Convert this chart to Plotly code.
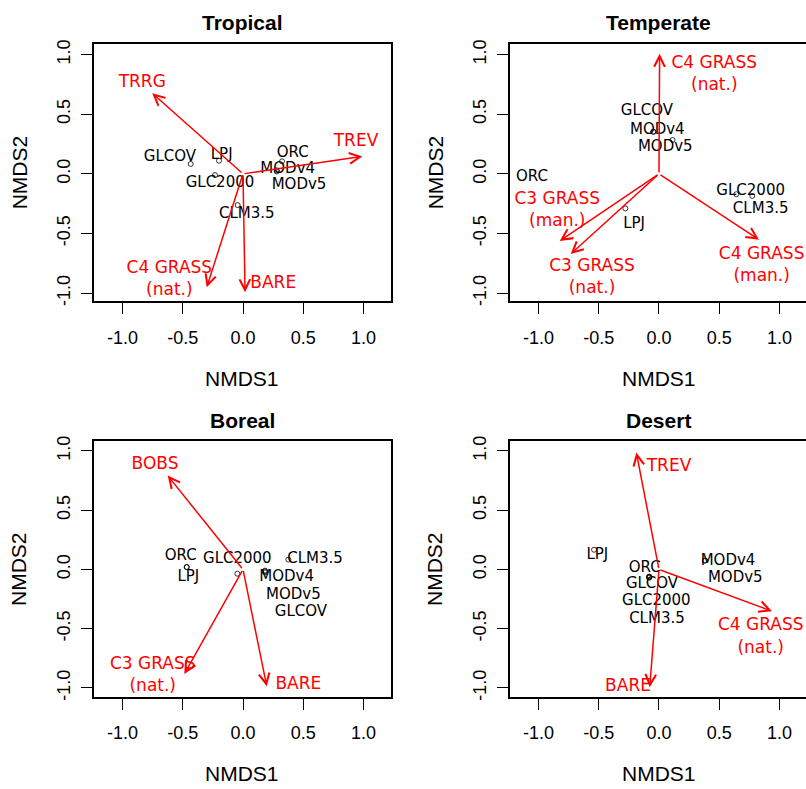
import plotly.graph_objects as go

W, H = 806, 789

# ---------------- data (NMDS scores) ----------------
trop_sites = ["GLCOV", "LPJ", "GLC2000", "ORC", "MODv4", "MODv5", "CLM3.5"]
trop_x = [-0.434, -0.199, -0.232, 0.324, 0.28, 0.28, -0.044]
trop_y = [0.083, 0.110, -0.011, 0.105, 0.03, 0.02, -0.262]
trop_lab_x = [-0.606, -0.177, -0.191, 0.412, 0.371, 0.465, 0.031]
trop_lab_y = [0.141, 0.160, -0.083, 0.174, 0.041, -0.097, -0.337]
trop_vec = ["TRRG", "TREV", "C4 GRASS<br>(nat.)", "BARE"]
trop_vx = [-0.753, 0.990, -0.301, 0.017]
trop_vy = [0.676, 0.146, -0.952, -0.993]
trop_vlx = [-0.836, 0.938, -0.611, 0.251]
trop_vly = [0.762, 0.270, -0.891, -0.925]

temp_sites = ["GLCOV", "MODv4", "MODv5", "ORC", "LPJ", "GLC2000", "CLM3.5"]
temp_x = [-0.047, -0.047, 0.113, -1.30, -0.279, 0.642, 0.774]
temp_y = [0.353, 0.353, 0.284, 0.0, -0.290, -0.171, -0.185]
temp_lab_x = [-0.100, -0.014, 0.052, -1.054, -0.207, 0.761, 0.844]
temp_lab_y = [0.527, 0.367, 0.224, -0.028, -0.419, -0.143, -0.295]
temp_vec = ["C4 GRASS<br>(nat.)", "C3 GRASS<br>(man.)", "C3 GRASS<br>(nat.)", "C4 GRASS<br>(man.)"]
temp_vx = [0.005, -0.824, -0.733, 0.830]
temp_vy = [1.007, -0.563, -0.673, -0.552]
temp_vlx = [0.459, -0.844, -0.556, 0.852]
temp_vly = [0.833, -0.312, -0.869, -0.767]

bor_sites = ["ORC", "LPJ", "GLC2000", "CLM3.5", "MODv4", "MODv5", "GLCOV"]
bor_x = [-0.467, -0.467, -0.047, 0.376, 0.183, 0.183, 0.183]
bor_y = [0.020, 0.020, -0.036, 0.083, -0.017, -0.025, -0.010]
bor_lab_x = [-0.517, -0.454, -0.047, 0.598, 0.362, 0.418, 0.481]
bor_lab_y = [0.111, -0.064, 0.083, 0.083, -0.069, -0.214, -0.361]
bor_vec = ["BOBS", "C3 GRASS<br>(nat.)", "BARE"]
bor_vx = [-0.625, -0.487, 0.197]
bor_vy = [0.792, -0.883, -0.986]
bor_vlx = [-0.730, -0.749, 0.459]
bor_vly = [0.883, -0.897, -0.972]

des_sites = ["LPJ", "ORC", "GLCOV", "GLC2000", "CLM3.5", "MODv4", "MODv5"]
des_x = [-0.539, -0.083, -0.083, -0.080, -0.080, 0.382, 0.382]
des_y = [0.166, -0.064, -0.064, -0.070, -0.060, 0.075, 0.075]
des_lab_x = [-0.512, -0.119, -0.058, -0.022, -0.017, 0.573, 0.633]
des_lab_y = [0.120, 0.006, -0.125, -0.272, -0.417, 0.069, -0.075]
des_vec = ["TREV", "C4 GRASS<br>(nat.)", "BARE"]
des_vx = [-0.188, 0.938, -0.077]
des_vy = [0.986, -0.352, -0.994]
des_vlx = [0.083, 0.844, -0.257]
des_vly = [0.867, -0.572, -0.986]

titles = ["Tropical", "Temperate", "Boreal", "Desert"]
tick_vals = [-1.0, -0.5, 0.0, 0.5, 1.0]
tick_text = ["-1.0", "-0.5", "0.0", "0.5", "1.0"]

# ---------------- layout geometry (pixels) ----------------
boxes = [  # x0, x1, y0(top), y1(bottom) in pixels
    (94, 391, 39, 300),
    (510, 806, 39, 300),
    (94, 391, 441.7, 700.7),
    (510, 806, 441.7, 700.7),
]
title_gap = [21.5, 21.5, 20.5, 20.5]
xranges = [[-1.2365, 1.2282], [-1.2365, 1.220], [-1.2365, 1.2282], [-1.2365, 1.220]]
yranges = [[-1.068, 1.093], [-1.068, 1.093], [-1.075, 1.083], [-1.075, 1.083]]

panels = [
    (trop_sites, trop_x, trop_y, trop_lab_x, trop_lab_y, trop_vec, trop_vx, trop_vy, trop_vlx, trop_vly),
    (temp_sites, temp_x, temp_y, temp_lab_x, temp_lab_y, temp_vec, temp_vx, temp_vy, temp_vlx, temp_vly),
    (bor_sites, bor_x, bor_y, bor_lab_x, bor_lab_y, bor_vec, bor_vx, bor_vy, bor_vlx, bor_vly),
    (des_sites, des_x, des_y, des_lab_x, des_lab_y, des_vec, des_vx, des_vy, des_vlx, des_vly),
]

RED = "#FF0000"
TICKFONT = dict(family="Liberation Sans, Arial, sans-serif", size=18, color="black")
AXFONT = dict(family="Liberation Sans, Arial, sans-serif", size=21, color="black")
TITLEFONT = dict(family="Liberation Sans, Arial, sans-serif", size=21, color="black", weight="bold")
LABFONT = dict(family="DejaVu Sans, sans-serif", size=15, color="black")
VECFONT = dict(family="DejaVu Sans, sans-serif", size=17, color=RED)

fig = go.Figure()
annotations = []
layout = {}

for i, (sites, sx, sy, lx, ly, vec, vx, vy, vlx, vly) in enumerate(panels):
    n = i + 1
    xa = "x" if n == 1 else f"x{n}"
    ya = "y" if n == 1 else f"y{n}"
    x0, x1, yt, yb = boxes[i]
    right_panel = i in (1, 3)
    layout["xaxis" if n == 1 else f"xaxis{n}"] = dict(
        domain=[x0 / W, x1 / W], range=xranges[i], anchor=ya,
        showline=True, linecolor="black", linewidth=1.6, mirror=True,
        ticks="outside", ticklen=11, tickwidth=1, tickcolor="black",
        tickvals=tick_vals, ticktext=tick_text, tickfont=TICKFONT,
        ticklabelstandoff=8,
        showgrid=False, zeroline=False, fixedrange=True,
    )
    layout["yaxis" if n == 1 else f"yaxis{n}"] = dict(
        domain=[1 - yb / H, 1 - yt / H], range=yranges[i], anchor=xa,
        showline=True, linecolor="black", linewidth=1.6, mirror=not right_panel,
        ticks="outside", ticklen=11, tickwidth=1, tickcolor="black",
        tickvals=tick_vals, ticktext=tick_text, tickfont=TICKFONT, tickangle=-90,
        ticklabelstandoff=4,
        showgrid=False, zeroline=False, fixedrange=True,
    )
    # site points
    fig.add_trace(go.Scatter(
        x=sx, y=sy, xaxis=xa, yaxis=ya, mode="markers", cliponaxis=True,
        marker=dict(symbol="circle-open", size=5, color="black", line=dict(width=0.8)),
        showlegend=False, hoverinfo="skip"))
    # site labels
    fig.add_trace(go.Scatter(
        x=lx, y=ly, xaxis=xa, yaxis=ya, mode="text", text=sites,
        textposition="middle center", textfont=LABFONT,
        showlegend=False, hoverinfo="skip"))
    # vector arrows (from origin)
    for tx, ty in zip(vx, vy):
        annotations.append(dict(
            x=tx, y=ty, ax=0, ay=0, xref=xa, yref=ya, axref=xa, ayref=ya,
            text="", showarrow=True, arrowhead=5, arrowsize=1.4, arrowwidth=1.5,
            arrowcolor=RED, standoff=0, startstandoff=0))
    # vector labels
    fig.add_trace(go.Scatter(
        x=vlx, y=vly, xaxis=xa, yaxis=ya, mode="text", text=vec,
        textposition="middle center", textfont=VECFONT,
        showlegend=False, hoverinfo="skip"))
    cx = (x0 + x1 + (1 if right_panel else 0)) / 2 / W
    # panel title
    annotations.append(dict(
        x=cx, y=1 - (yt - title_gap[i]) / H, xref="paper", yref="paper", text=titles[i],
        showarrow=False, font=TITLEFONT, xanchor="center", yanchor="middle"))
    # axis titles
    annotations.append(dict(
        x=cx, y=1 - (yb + 78) / H, xref="paper", yref="paper", text="NMDS1",
        showarrow=False, font=AXFONT, xanchor="center", yanchor="middle"))
    annotations.append(dict(
        x=(x0 - 75) / W, y=1 - (yt + yb) / 2 / H, xref="paper", yref="paper", text="NMDS2",
        showarrow=False, font=AXFONT, xanchor="center", yanchor="middle", textangle=-90))

fig.update_layout(
    width=W, height=H, margin=dict(l=0, r=0, t=0, b=0),
    paper_bgcolor="white", plot_bgcolor="white",
    annotations=annotations, showlegend=False, **layout)

fig.write_html("out.html", config={"displayModeBar": False},
               post_script="document.body.style.margin='0';document.body.style.overflow='hidden';")
